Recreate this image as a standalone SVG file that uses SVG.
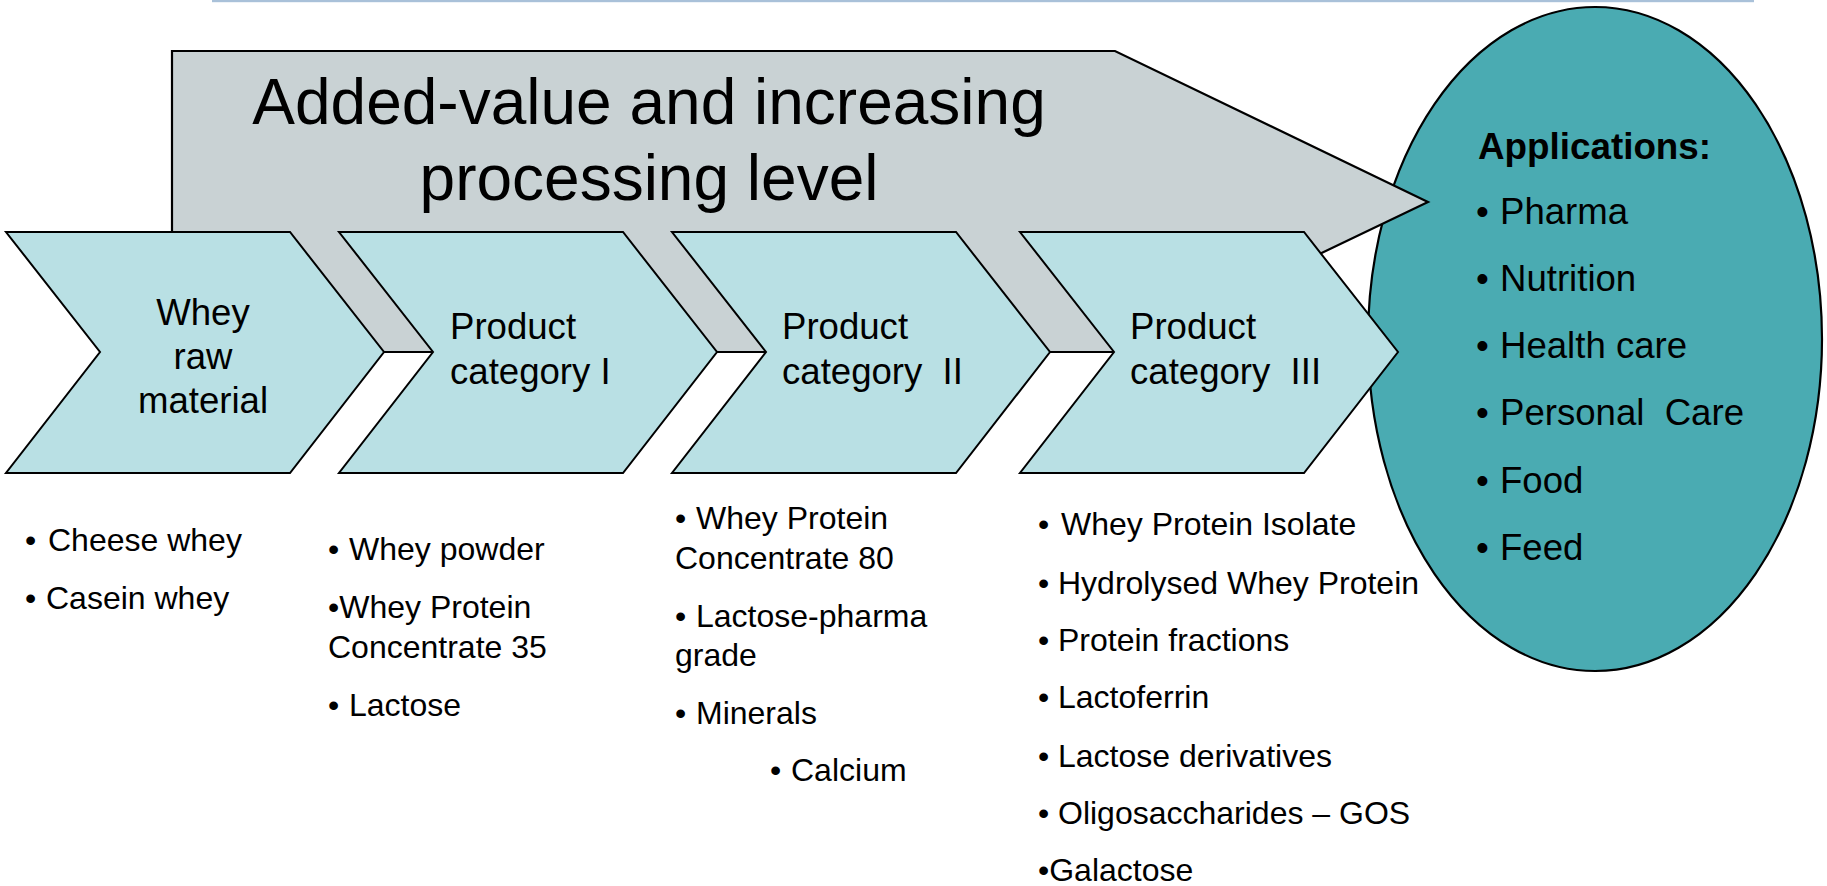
<svg xmlns="http://www.w3.org/2000/svg" width="1827" height="886" viewBox="0 0 1827 886">
<style>
  .chev { fill: #b9e0e4; stroke: #000; stroke-width: 2; stroke-linejoin: miter; }
  .big { fill: #c9d2d4; stroke: #000; stroke-width: 2.2; }
  .ell { fill: #4aabb2; stroke: #000; stroke-width: 2.2; }
  text { font-family: "Liberation Sans", Arial, sans-serif; fill: #000; }
  .title { font-size: 64px; text-anchor: middle; }
  .ct { font-size: 36.6px; }
  .cc { font-size: 36.6px; text-anchor: middle; }
  .bl { font-size: 32px; }
  .ap { font-size: 36.6px; }
  .apb { font-size: 36.8px; font-weight: bold; }
</style>
<rect width="1827" height="886" fill="#ffffff"/>
<rect x="212" y="0" width="1542" height="2.2" fill="#a9c1d9"/>

<g id="applications">
  <ellipse class="ell" cx="1595" cy="339" rx="227" ry="332"/>
</g>

<g id="added-value-arrow">
  <polygon class="big" points="172,51 1115,51 1428,202 1115,352 172,352"/>
  <text class="title" x="649" y="124">Added-value and increasing</text>
  <text class="title" x="649" y="200">processing level</text>
</g>

<g id="connectors"></g>

<g id="whey-raw-material">
  <polygon class="chev" points="6,232 290,232 384,352 290,473 6,473 100,352"/>
  <text class="cc" x="203" y="325">Whey</text>
  <text class="cc" x="203" y="369">raw</text>
  <text class="cc" x="203" y="413">material</text>
</g>

<g id="product-category-1">
  <polygon class="chev" points="339,232 623,232 717,352 623,473 339,473 433,352"/>
  <text class="ct" x="450" y="339">Product</text>
  <text class="ct" x="450" y="384">category I</text>
</g>

<g id="product-category-2">
  <polygon class="chev" points="672,232 956,232 1050,352 956,473 672,473 766,352"/>
  <text class="ct" x="782" y="339">Product</text>
  <text class="ct" x="782" y="384" xml:space="preserve">category  II</text>
</g>

<g id="product-category-3">
  <polygon class="chev" points="1020,232 1304,232 1398,352 1304,473 1020,473 1114,352"/>
  <text class="ct" x="1130" y="339">Product</text>
  <text class="ct" x="1130" y="384" xml:space="preserve">category  III</text>
</g>

<g id="applications-text">
  <text class="apb" x="1478" y="159">Applications:</text>
  <text class="ap" x="1476" y="224">•<tspan x="1500">Pharma</tspan></text>
  <text class="ap" x="1476" y="291">•<tspan x="1500">Nutrition</tspan></text>
  <text class="ap" x="1476" y="358">•<tspan x="1500">Health care</tspan></text>
  <text class="ap" x="1476" y="425" xml:space="preserve">•<tspan x="1500">Personal  Care</tspan></text>
  <text class="ap" x="1476" y="493">•<tspan x="1500">Food</tspan></text>
  <text class="ap" x="1476" y="560">•<tspan x="1500">Feed</tspan></text>
</g>

<g id="list-raw">
  <text class="bl" x="25" y="551">•<tspan x="48">Cheese whey</tspan></text>
  <text class="bl" x="25" y="609">•<tspan x="46">Casein whey</tspan></text>
</g>

<g id="list-cat1">
  <text class="bl" x="328" y="560">•<tspan x="349">Whey powder</tspan></text>
  <text class="bl" x="328" y="618">•Whey Protein</text>
  <text class="bl" x="328" y="658">Concentrate 35</text>
  <text class="bl" x="328" y="716">•<tspan x="349">Lactose</tspan></text>
</g>

<g id="list-cat2">
  <text class="bl" x="675" y="529">•<tspan x="696">Whey Protein</tspan></text>
  <text class="bl" x="675" y="569">Concentrate 80</text>
  <text class="bl" x="675" y="627">•<tspan x="696">Lactose-pharma</tspan></text>
  <text class="bl" x="675" y="666">grade</text>
  <text class="bl" x="675" y="724">•<tspan x="696">Minerals</tspan></text>
  <text class="bl" x="770" y="781">•<tspan x="791">Calcium</tspan></text>
</g>

<g id="list-cat3">
  <text class="bl" x="1038" y="535">•<tspan x="1061">Whey Protein Isolate</tspan></text>
  <text class="bl" x="1038" y="594">•<tspan x="1058">Hydrolysed Whey Protein</tspan></text>
  <text class="bl" x="1038" y="651">•<tspan x="1058">Protein fractions</tspan></text>
  <text class="bl" x="1038" y="708">•<tspan x="1058">Lactoferrin</tspan></text>
  <text class="bl" x="1038" y="767">•<tspan x="1058">Lactose derivatives</tspan></text>
  <text class="bl" x="1038" y="824">•<tspan x="1058">Oligosaccharides – GOS</tspan></text>
  <text class="bl" x="1038" y="881">•Galactose</text>
</g>
</svg>
